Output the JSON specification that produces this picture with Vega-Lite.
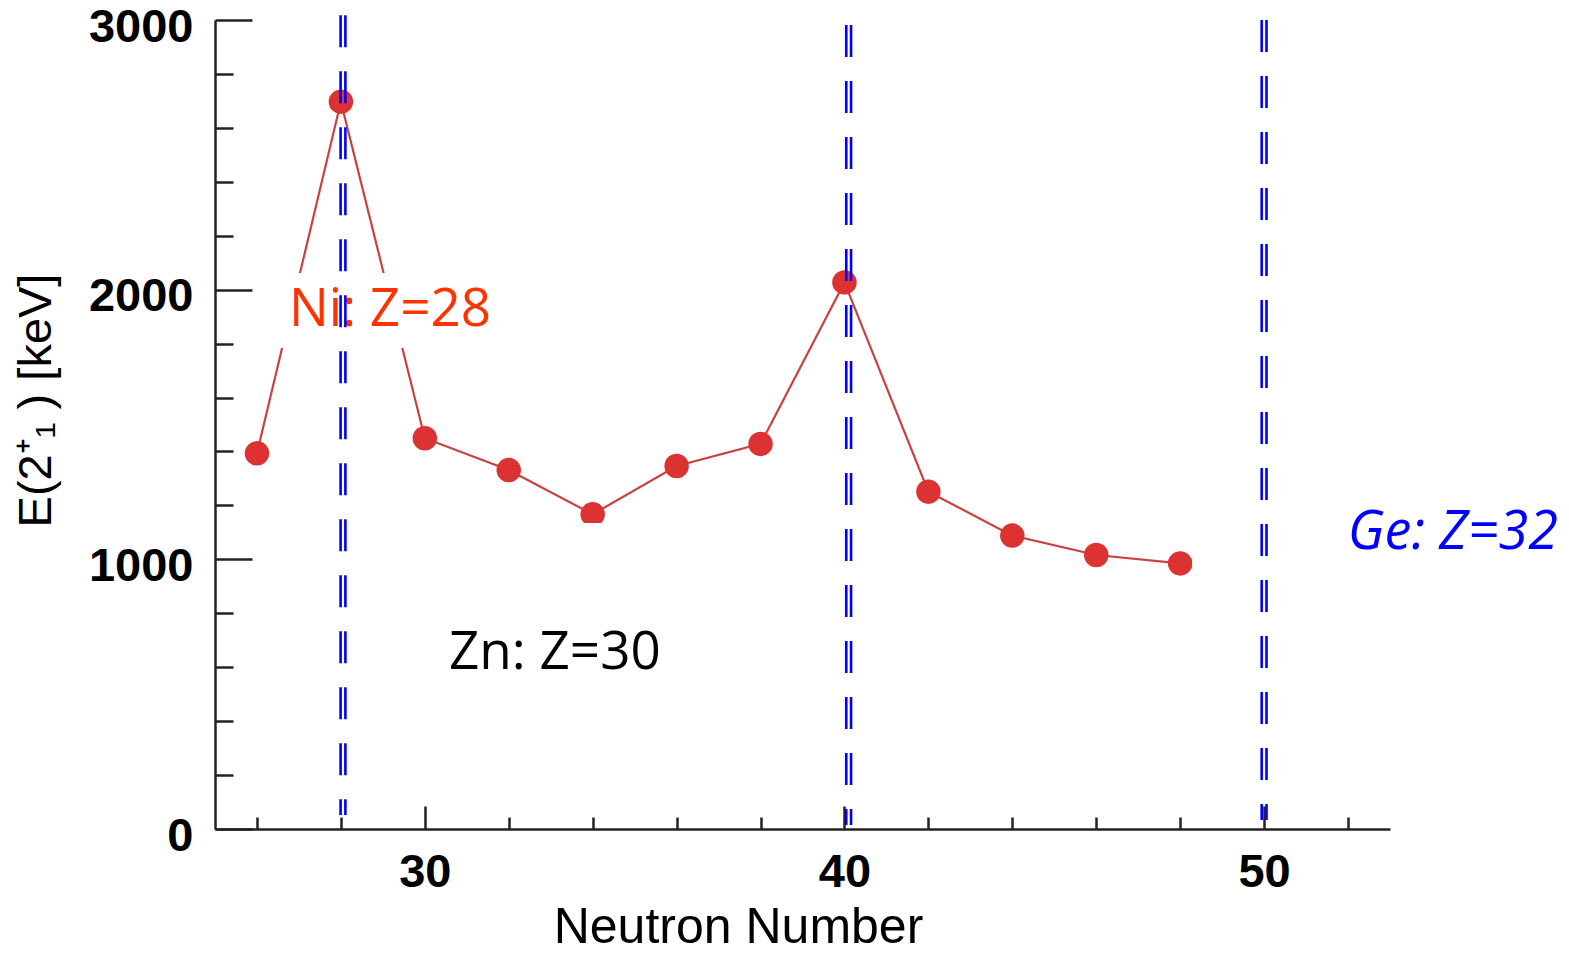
{
  "$schema": "https://vega.github.io/schema/vega-lite/v6.json",
  "width": 1175,
  "height": 809,
  "autosize": {"type": "none"},
  "padding": {"left": 215, "top": 20, "right": 179, "bottom": 125},
  "background": "white",
  "config": {"view": {"stroke": null}},
  "resolve": {"axis": {"x": "independent", "y": "independent"}},
  "datasets": {
    "e2": [
      {"N": 26, "E": 1393},
      {"N": 28, "E": 2697},
      {"N": 30, "E": 1449},
      {"N": 32, "E": 1331},
      {"N": 34, "E": 1167},
      {"N": 36, "E": 1346},
      {"N": 38, "E": 1428},
      {"N": 40, "E": 2027},
      {"N": 42, "E": 1251},
      {"N": 44, "E": 1088},
      {"N": 46, "E": 1016},
      {"N": 48, "E": 985}
    ],
    "boxes": [
      {"from": 26.43, "to": 31.79, "low": 1784, "high": 2062},
      {"from": 30.36, "to": 38.45, "low": 515, "high": 1135},
      {"from": 48.29, "to": 57, "low": 850, "high": 1300}
    ],
    "shells": [
      {"N": 28.05, "top": 3018, "bottom": 52},
      {"N": 40.1, "top": 2981, "bottom": 15},
      {"N": 50, "top": 3000, "bottom": 33}
    ],
    "isotopes": [
      {"label": "Ni: Z=28", "N": 29.17, "E": 1925},
      {"label": "Zn: Z=30", "N": 33.1, "E": 653},
      {"label": "Ge: Z=32", "N": 54.5, "E": 1098}
    ]
  },
  "layer": [
    {
      "data": {"name": "e2"},
      "mark": {"type": "line", "color": "#c8423f", "strokeWidth": 2.2},
      "encoding": {
        "x": {
          "field": "N",
          "type": "quantitative",
          "scale": {"domain": [25, 53], "nice": false, "zero": false},
          "axis": {
            "orient": "bottom",
            "title": "Neutron Number",
            "values": [30, 40, 50],
            "grid": false,
            "tickSize": -23,
            "labelPadding": 43,
            "labelFlush": false,
            "labelOverlap": false,
            "labelFont": "Liberation Sans",
            "labelFontWeight": "bold",
            "labelFontSize": 47,
            "labelColor": "#000000",
            "domainColor": "#222222",
            "domainWidth": 2.5,
            "tickColor": "#222222",
            "tickWidth": 2.5,
            "titleFont": "Liberation Sans",
            "titleFontWeight": "normal",
            "titleFontSize": 50,
            "titleColor": "#000000",
            "titleX": 523,
            "titleY": 113,
            "titleAlign": "center",
            "titleBaseline": "alphabetic"
          }
        },
        "y": {
          "field": "E",
          "type": "quantitative",
          "scale": {"domain": [0, 3000], "nice": false},
          "axis": {
            "orient": "left",
            "title": "E(2⁺₁ ) [keV]",
            "values": [0, 1000, 2000, 3000],
            "format": "d",
            "grid": false,
            "tickSize": -37,
            "labelPadding": 59,
            "labelOffset": 7,
            "labelFlush": false,
            "labelOverlap": false,
            "labelFont": "Liberation Sans",
            "labelFontWeight": "bold",
            "labelFontSize": 47,
            "labelColor": "#000000",
            "domainColor": "#222222",
            "domainWidth": 2.5,
            "tickColor": "#222222",
            "tickWidth": 2.5,
            "titleFont": "Liberation Sans",
            "titleFontWeight": "normal",
            "titleFontSize": 47,
            "titleColor": "#000000",
            "titleAngle": 270,
            "titleX": -165,
            "titleY": 380,
            "titleAlign": "center",
            "titleBaseline": "alphabetic"
          }
        }
      }
    },
    {
      "data": {"name": "e2"},
      "mark": {"type": "circle", "size": 600, "color": "#dc3232", "opacity": 1},
      "encoding": {
        "x": {"field": "N", "type": "quantitative", "axis": null},
        "y": {"field": "E", "type": "quantitative", "axis": null}
      }
    },
    {
      "data": {"name": "boxes"},
      "mark": {"type": "rect", "color": "#ffffff", "opacity": 1},
      "encoding": {
        "x": {"field": "from", "type": "quantitative", "axis": null},
        "x2": {"field": "to"},
        "y": {"field": "low", "type": "quantitative", "axis": null},
        "y2": {"field": "high"}
      }
    },
    {
      "data": {"name": "isotopes"},
      "transform": [{"filter": "datum.label !== 'Ge: Z=32'"}],
      "mark": {"type": "text", "font": "Open Sans", "fontSize": 53, "align": "center", "baseline": "middle"},
      "encoding": {
        "x": {"field": "N", "type": "quantitative", "axis": null},
        "y": {"field": "E", "type": "quantitative", "axis": null},
        "text": {"field": "label"},
        "color": {
          "field": "label",
          "type": "nominal",
          "scale": {"domain": ["Ni: Z=28", "Zn: Z=30", "Ge: Z=32"], "range": ["#ff3300", "#000000", "#0000ff"]},
          "legend": null
        }
      }
    },
    {
      "data": {"name": "isotopes"},
      "transform": [{"filter": "datum.label === 'Ge: Z=32'"}],
      "mark": {"type": "text", "font": "Open Sans", "fontSize": 54, "fontStyle": "italic", "align": "center", "baseline": "middle", "color": "#0000ff"},
      "encoding": {
        "x": {"field": "N", "type": "quantitative", "axis": null},
        "y": {"field": "E", "type": "quantitative", "axis": null},
        "text": {"field": "label"}
      }
    },
    {
      "data": {"name": "shells"},
      "mark": {"type": "rule", "color": "#0000ff", "strokeWidth": 2.6, "strokeDash": [32, 24], "xOffset": -2.4},
      "encoding": {
        "x": {
          "field": "N",
          "type": "quantitative",
          "axis": {
            "orient": "bottom",
            "values": [26, 28, 32, 34, 36, 38, 42, 44, 46, 48, 52],
            "labels": false,
            "domain": false,
            "grid": false,
            "title": null,
            "tickSize": -12,
            "tickColor": "#222222",
            "tickWidth": 2.5
          }
        },
        "y": {
          "field": "top",
          "type": "quantitative",
          "axis": {
            "orient": "left",
            "values": [200, 400, 600, 800, 1200, 1400, 1600, 1800, 2200, 2400, 2600, 2800],
            "labels": false,
            "domain": false,
            "grid": false,
            "title": null,
            "tickSize": -18,
            "tickColor": "#222222",
            "tickWidth": 2.5
          }
        },
        "y2": {"field": "bottom"}
      }
    },
    {
      "data": {"name": "shells"},
      "mark": {"type": "rule", "color": "#0000ff", "strokeWidth": 2.6, "strokeDash": [32, 24], "xOffset": 2.4},
      "encoding": {
        "x": {"field": "N", "type": "quantitative", "axis": null},
        "y": {"field": "top", "type": "quantitative", "axis": null},
        "y2": {"field": "bottom"}
      }
    }
  ]
}
